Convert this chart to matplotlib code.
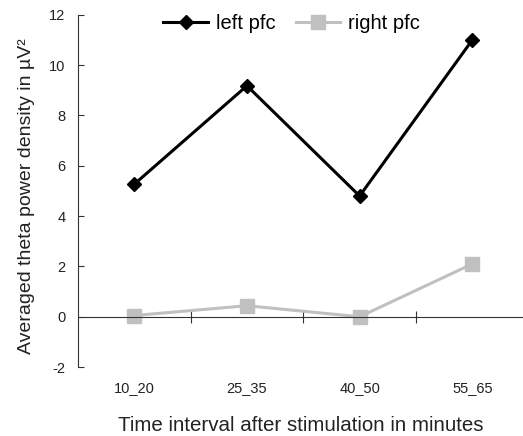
import matplotlib
matplotlib.use("Agg")
import matplotlib.pyplot as plt

categories = ["10_20", "25_35", "40_50", "55_65"]
left_pfc = [5.27, 9.18, 4.8, 11.0]
right_pfc = [0.05, 0.44, 0.0, 2.1]

plt.rcParams["font.family"] = "Liberation Sans"
plt.rcParams["axes.unicode_minus"] = False

fig = plt.figure(figsize=(5.23, 4.36), dpi=100)
ax = fig.add_axes([0.149, 0.158, 0.851, 0.808])

x = range(len(categories))
ax.plot(x, left_pfc, color="black", lw=2.2, marker="D", ms=7, label="left pfc")
ax.plot(x, right_pfc, color="#c0c0c0", lw=2.2, marker="s", ms=9.5, label="right pfc")

ax.set_xlim(-0.5, 3.45)
ax.set_ylim(-2, 12)
ax.set_yticks(range(-2, 13, 2))

ax.spines["top"].set_visible(False)
ax.spines["right"].set_visible(False)
ax.spines["bottom"].set_position(("data", 0))
ax.spines["left"].set_color("#333333")
ax.spines["bottom"].set_color("#333333")

# category ticks sit between the points, labels under the plot
ax.set_xticks([0.5, 1.5, 2.5])
ax.set_xticklabels([])
ax.tick_params(axis="x", direction="inout", length=8, color="#333333")
ax.tick_params(axis="y", direction="in", length=4, pad=9, labelsize=10.5,
               color="#333333", labelcolor="#222222")
for i, c in enumerate(categories):
    ax.text(i, -2.85, c, ha="center", va="center", fontsize=10.5, color="#222222")

ax.set_ylabel("Averaged theta power density in µV²", fontsize=14, color="#222222")
ax.yaxis.set_label_coords(-0.097, 0.485)
ax.set_xlabel("Time interval after stimulation in minutes", fontsize=14.8,
              color="#222222")
ax.xaxis.set_label_coords(0.5, -0.14)

ax.legend(loc="center", bbox_to_anchor=(0.48, 0.975), ncol=2, frameon=False,
          fontsize=14.5, handlelength=2.2, columnspacing=1.0, handletextpad=0.4)

fig.savefig("out.png", dpi=100)
